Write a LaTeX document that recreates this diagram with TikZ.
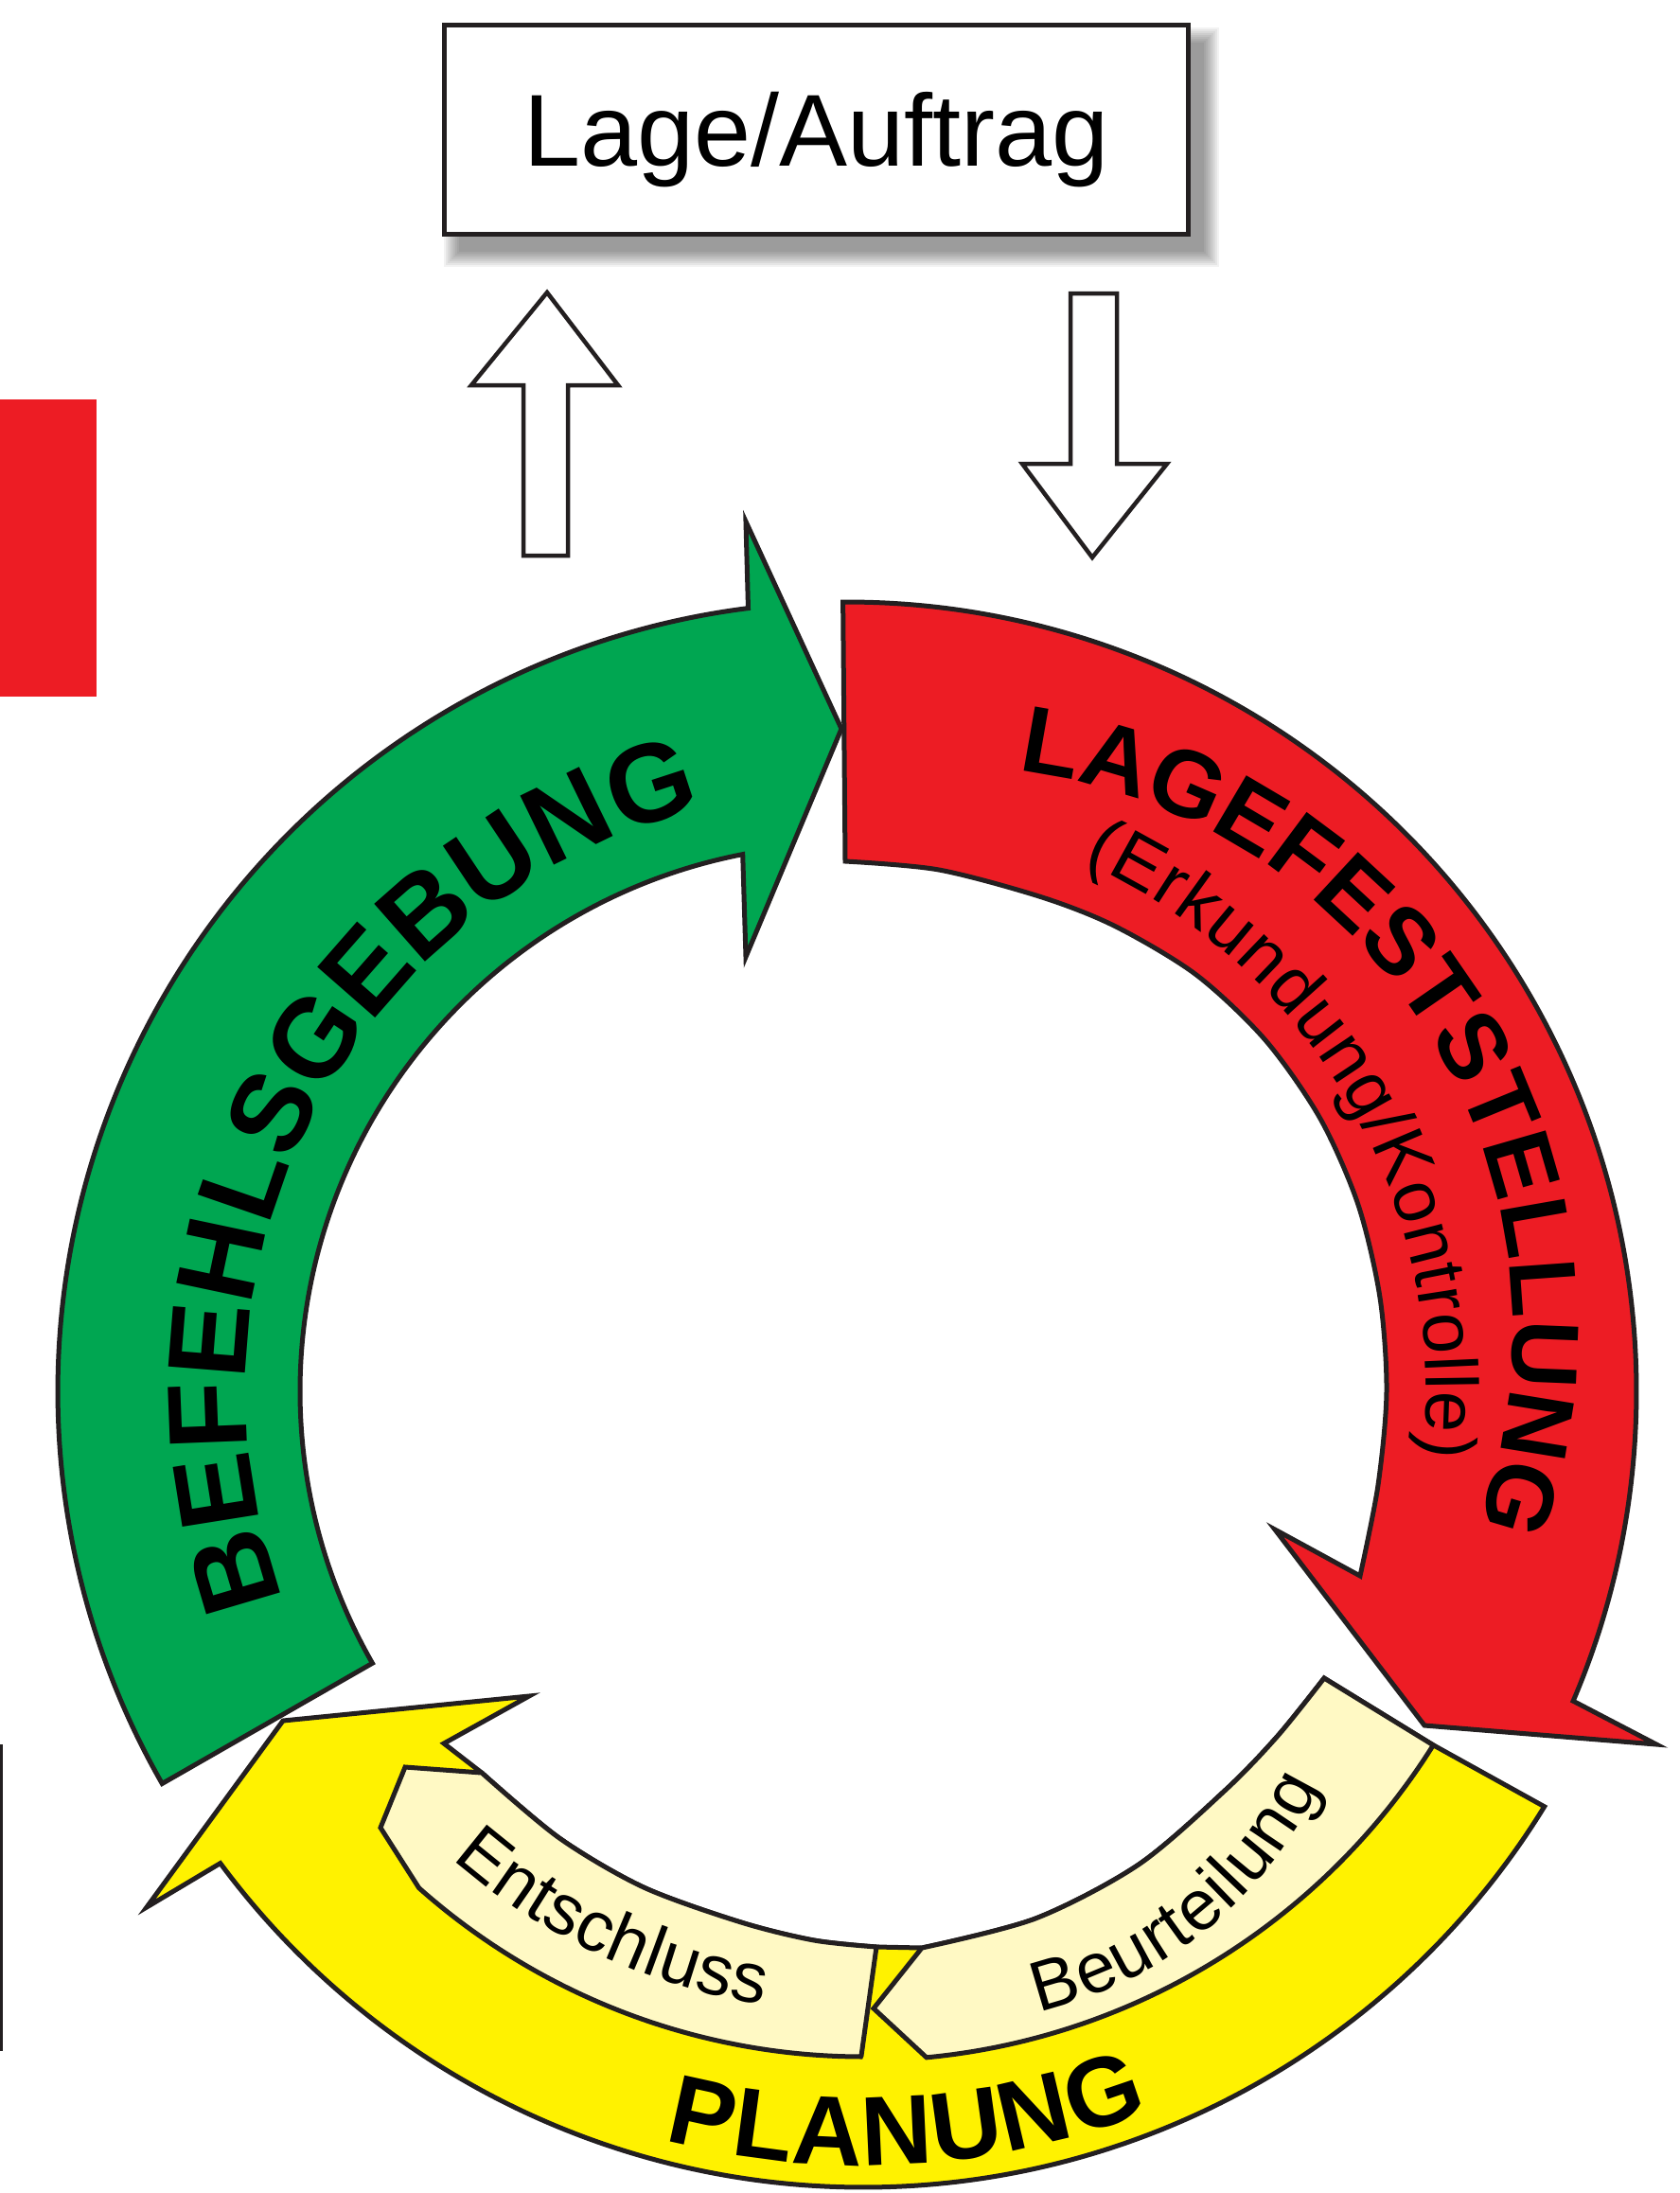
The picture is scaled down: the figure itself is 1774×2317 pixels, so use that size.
\documentclass[tikz,border=0pt]{standalone}
\usepackage{fontspec}
\setmainfont{Liberation Sans}
\newfontfamily\labfont{Liberation Sans}
\usetikzlibrary{decorations.text}
\definecolor{ink}{HTML}{231F20}
\definecolor{cgreen}{HTML}{00A651}
\definecolor{cred}{HTML}{ED1C24}
\definecolor{cyellow}{HTML}{FFF200}
\definecolor{cpale}{HTML}{FFF9C4}
\newcommand\fLage{\labfont\fontsize{108pt}{108pt}\selectfont}
\newcommand\fBef{\labfont\bfseries\fontsize{118pt}{118pt}\selectfont}
\newcommand\fLagefest{\labfont\bfseries\fontsize{100pt}{100pt}\selectfont}
\newcommand\fErk{\labfont\fontsize{78pt}{78pt}\selectfont}
\newcommand\fPlan{\labfont\bfseries\fontsize{104pt}{104pt}\selectfont}
\newcommand\fSmall{\labfont\fontsize{75pt}{75pt}\selectfont}
\tikzset{
  outl/.style={draw=ink, line width=5pt, line join=miter, miter limit=25},
  hollow/.style={outl, fill=white, line width=4.5pt},
  curvetext/.style={decorate, decoration={text along path, text align={fit to path}, text={#1}}},
}
\begin{document}
\begin{tikzpicture}[x=1pt,y=-1pt]
\useasboundingbox (0,0) rectangle (1774,2317);
\fill[white] (0,0) rectangle (1774,2317);
\coordinate (C) at (895,1470);
\coordinate (Y) at (912,1466);
\coordinate (L) at (1003.3,1405.1);
\coordinate (B) at (997,1696.5);

% side bar and edge line
\fill[cred] (0,422) rectangle (102,736);
\draw[ink, line width=2.7pt] (1.35,1843) -- (1.35,2167);

% shadow of the box
\foreach \i in {0,...,8} {
  \fill[black, opacity=0.05] (485-2*\i,45-2*\i) rectangle (1272+2*\i,266+2*\i);
}
\node[draw=ink, line width=5.5pt, fill=white, minimum width=786pt, minimum height=221pt,
      inner sep=0pt, text height=77pt, text depth=0pt, font=\fLage] (lage) at (862.5,137) {Lage/Auftrag};

% hollow arrows
\draw[hollow] (553,587) -- (553,407) -- (498,407) -- (578,309) -- (653,407) -- (600,407) -- (600,587) -- cycle;
\draw[hollow] (1131,310) -- (1180,310) -- (1180,490) -- (1233,490) -- (1154,589) -- (1080,490) -- (1131,490) -- cycle;

% green arrow
\filldraw[outl, fill=cgreen] ([shift={(C)}]150.2:834) arc[start angle=150.2, end angle=262.8, radius=834]
  -- (788,551) -- (889,770) -- (788,1011) -- ([shift={(C)}]259:578)
  arc[start angle=259, end angle=150.2, radius=578] -- cycle;

% red arrow
\filldraw[outl, fill=cred] (893,910) -- ([shift={(C)}]269.7:834) arc[start angle=269.7, end angle=383.1, radius=834]
  -- (1750,1843) -- (1505,1823) -- (1347,1616)
  -- plot[smooth] coordinates {(1437,1665) (1456,1569) (1465,1470) (1458,1371) (1435,1273) (1395,1182) (1337,1099) (1264,1030) (1179,979) (1101,948) (992,919) (893,910)}
  -- cycle;

% yellow arrow
\filldraw[outl, fill=cyellow] ([shift={(Y)}]31.6:845) arc[start angle=31.6, end angle=143.5, radius=845]
  -- (155,2015) -- (299,1818) -- (559,1792) -- (469,1842)
  -- plot[smooth] coordinates {(509,1873) (591,1942) (680,1994) (783,2031) (860,2050) (926,2057)}
  -- plot[smooth] coordinates {(974,2058) (1094,2027) (1203,1970) (1295,1891) (1350,1834) (1399,1773)}
  -- (1513,1843) -- cycle;

% pale bands
\filldraw[outl, fill=cpale] (428,1867)
  -- plot[smooth] coordinates {(509,1873) (591,1942) (680,1994) (783,2031) (860,2050) (926,2057)}
  -- (910,2172) -- ([shift={(Y)}]90.2:707) arc[start angle=90.2, end angle=131.6, radius=707]
  -- (402,1931) -- cycle;
\filldraw[outl, fill=cpale]
  plot[smooth] coordinates {(974,2058) (1094,2027) (1203,1970) (1295,1891) (1350,1834) (1399,1773)}
  -- (1513,1843) -- ([shift={(Y)}]32.1:711) arc[start angle=32.1, end angle=84.6, radius=711]
  -- (923,2122) -- cycle;

% curved labels
\path[curvetext={|\fBef|BEFEHLSGEBUNG}] ([shift={(C)}]159.7:635) arc[start angle=159.7, end angle=254.9, radius=635];
\path[curvetext={|\fLagefest|LAGEFESTSTELLUNG}] ([shift={(L)}]277:595) arc[start angle=277, end angle=379.5, radius=595];
\path[curvetext={|\fErk|(Erkundung/Kontrolle)}] ([shift={(C)}]294:612) arc[start angle=294, end angle=366.5, radius=612];
\path[curvetext={|\fPlan|PLANUNG}] ([shift={(Y)}]104.8:822) arc[start angle=104.8, end angle=68.4, radius=822];
\path[curvetext={|\fSmall|Entschluss}] ([shift={(Y)}]131.1:661) arc[start angle=131.1, end angle=99.2, radius=661];
\path[curvetext={|\fSmall|Beurteilung}] ([shift={(B)}]76.8:441) arc[start angle=76.8, end angle=25.7, radius=441];
\end{tikzpicture}
\end{document}
